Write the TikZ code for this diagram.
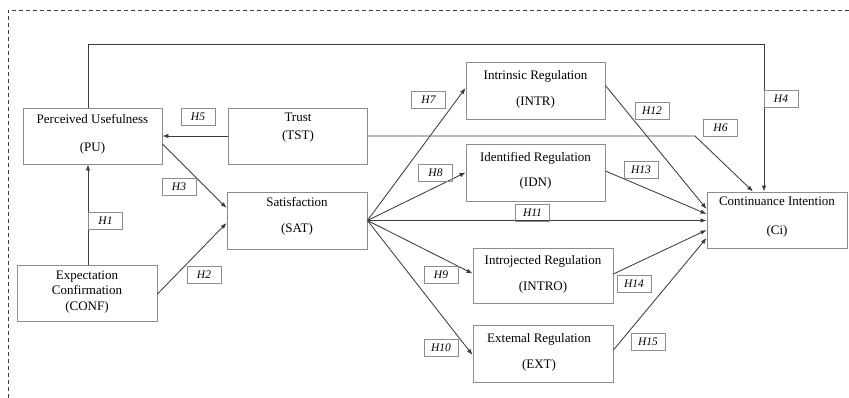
\documentclass[tikz,border=0pt]{standalone}
\usepackage{fontspec}
\setmainfont{Liberation Serif}
\usetikzlibrary{arrows.meta,calc}
\definecolor{boxgray}{HTML}{8C8C8C}
\definecolor{linegray}{HTML}{3C3C3C}
\begin{document}
\begin{tikzpicture}[x=1pt,y=-1pt,
  varbox/.style={draw=boxgray,line width=0.9pt,minimum width=139pt,minimum height=56pt,inner sep=0pt},
  vartext/.style={align=center,font=\fontsize{13}{15.5}\selectfont,inner sep=0pt},
  hbox/.style={draw=boxgray,line width=0.9pt,minimum width=34pt,minimum height=17pt,inner sep=0pt,font=\fontsize{11.5}{13}\selectfont\itshape},
  arr/.style={draw=linegray,line width=0.85pt,-{Latex[length=6pt,width=4.5pt]}},
  plain/.style={draw=linegray,line width=0.85pt}]
\useasboundingbox (0,0) rectangle (849,398);
% frame
\draw[linegray,line width=0.7pt,dash pattern=on 4pt off 3pt] (8,398) -- (8,10) -- (849,10);
% boxes
\node[varbox] (pu) at (92.5,136) {};
\node[varbox] (tst) at (298,136) {};
\node[varbox,minimum width=140pt,minimum height=57pt] (sat) at (297,220.5) {};
\node[varbox,minimum width=140pt] (conf) at (87,293) {};
\node[varbox,minimum height=57pt] (intr) at (535.5,90.5) {};
\node[varbox,minimum height=57pt] (idn) at (535.5,172.5) {};
\node[varbox,minimum width=140pt,minimum height=55pt] (intro) at (543,275.5) {};
\node[varbox,minimum width=140pt,minimum height=57pt] (ext) at (543,353.5) {};
\node[varbox,minimum width=140pt] (ci) at (777,220) {};
% texts
\node[vartext] (puT) at (92.5,134.5) {Perceived Usefulness\\[12.5pt](PU)};
\node[vartext] (tstT) at (298,128) {Trust\\[2.5pt](TST)};
\node[vartext] (satT) at (297,216) {Satisfaction\\[10.5pt](SAT)};
\node[vartext] (confT) at (87,292) {Expectation\\Confirmation\\(CONF)};
\node[vartext] (intrT) at (535.5,89) {Intrinsic Regulation\\[10.5pt](INTR)};
\node[vartext] (idnT) at (535.5,170.5) {Identified Regulation\\[9.5pt](IDN)};
\node[vartext] (introT) at (543,274) {Introjected Regulation\\[10.5pt](INTRO)};
\node[vartext] (extT) at (539,352) {Extemal Regulation\\[10.5pt](EXT)};
\node[vartext] (ciT) at (777,217.5) {Continuance Intention\\[13.5pt](Ci)};
% connectors
\coordinate (h4top) at (764,44);
\coordinate (h6k) at (695,136);
\coordinate (h1s) at ($(conf.north)+(1,0)$);
\coordinate (h4s) at ($(pu.north)+(-4.5,0)$);
\draw[arr] (h1s) -- (h1s |- pu.south);
\draw[arr] (tst.west) -- (pu.east);
\draw[arr] ($(pu.east)+(0,8)$) -- ($(sat.west)+(0,-12.5)$);
\draw[arr] ($(conf.east)+(0,1)$) -- ($(sat.west)+(0,2.5)$);
\draw[arr] (h4s) |- (h4top) -- (h4top |- ci.north);
\draw[arr] (tst.east) -- (h6k) -- ($(ci.north)+(-24,0)$);
\draw[arr] (sat.east) -- ($(intr.west)+(0,-2.5)$);
\draw[arr] (sat.east) -- (idn.west);
\draw[arr] (sat.east) -- (sat.east -| ci.west);
\draw[arr] (sat.east) -- ($(intro.west)+(0,-2)$);
\draw[arr] (sat.east) -- ($(ext.west)+(0,1.5)$);
\draw[arr] ($(intr.east)+(0,-5)$) -- ($(ci.west)+(0,-11)$);
\draw[arr] ($(idn.east)+(0,-1.5)$) -- ($(ci.west)+(0,-6)$);
\draw[arr] ($(intro.east)+(0,-1.5)$) -- ($(ci.west)+(0,10)$);
\draw[arr] ($(ext.east)+(0,-3.5)$) -- ($(ci.west)+(0,18)$);
% hypothesis labels
\node[hbox] (h1) at (105.5,220.5) {H1};
\node[hbox] (h2) at (204,274.5) {H2};
\node[hbox] (h3) at (179,186.5) {H3};
\node[hbox] (h4) at (781,99) {H4};
\node[hbox] (h5) at (198,117) {H5};
\node[hbox] (h6) at (720.5,128) {H6};
\node[hbox] (h7) at (428.5,99.5) {H7};
\node[hbox] (h8) at (435.5,173) {H8};
\node[hbox] (h9) at (441,274.5) {H9};
\node[hbox] (h10) at (441,347.5) {H10};
\node[hbox] (h11) at (532.5,213) {H11};
\node[hbox] (h12) at (652,110.5) {H12};
\node[hbox] (h13) at (641,169.5) {H13};
\node[hbox] (h14) at (634,283.5) {H14};
\node[hbox] (h15) at (648,342) {H15};
\end{tikzpicture}
\end{document}
